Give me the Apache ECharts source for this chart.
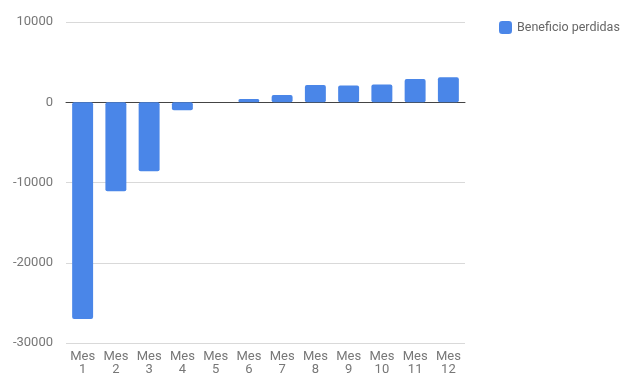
<!DOCTYPE html>
<html>
<head>
<meta charset="utf-8">
<script src="https://cdn.jsdelivr.net/npm/echarts@6/dist/echarts.min.js"></script>
<style>html,body{margin:0;padding:0;background:#fff}#c{width:630px;height:384px}</style>
</head>
<body>
<div id="c"></div>
<script>
const categories = ['Mes\n1','Mes\n2','Mes\n3','Mes\n4','Mes\n5','Mes\n6','Mes\n7','Mes\n8','Mes\n9','Mes\n10','Mes\n11','Mes\n12'];
const values = [-27000, -11100, -8600, -1000, 0, 400, 900, 2150, 2100, 2200, 2900, 3100];
const seriesName = 'Beneficio perdidas';
const yTicks = {min: -30000, max: 10000, interval: 10000};

const chart = echarts.init(document.getElementById('c'));
chart.setOption({
  animation: false,
  textStyle: {fontFamily: 'Roboto, Arial, sans-serif'},
  legend: {
    left: 494, top: 16, itemWidth: 13, itemHeight: 13, itemGap: 9,
    icon: 'roundRect',
    textStyle: {color: '#666', fontSize: 12.5},
    data: [seriesName]
  },
  grid: {left: 66, right: 165, top: 22, bottom: 41},
  xAxis: {
    type: 'category', data: categories,
    axisLine: {onZero: true, lineStyle: {color: '#444', width: 1}},
    axisTick: {show: false},
    axisLabel: {color: '#777', fontSize: 13, lineHeight: 13, margin: 7, interval: 0},
  },
  yAxis: {
    type: 'value', min: yTicks.min, max: yTicks.max, interval: yTicks.interval,
    axisLine: {show: false}, axisTick: {show: false},
    axisLabel: {color: '#777', fontSize: 13, margin: 13, formatter: function(v){return String(v);}},
    splitLine: {lineStyle: {color: '#d9d9d9'}}
  },
  series: [{
    name: seriesName, type: 'bar', data: values, barWidth: '63%',
    itemStyle: {color: '#4a86e8', borderRadius: 2}
  }]
});
</script>
</body>
</html>
